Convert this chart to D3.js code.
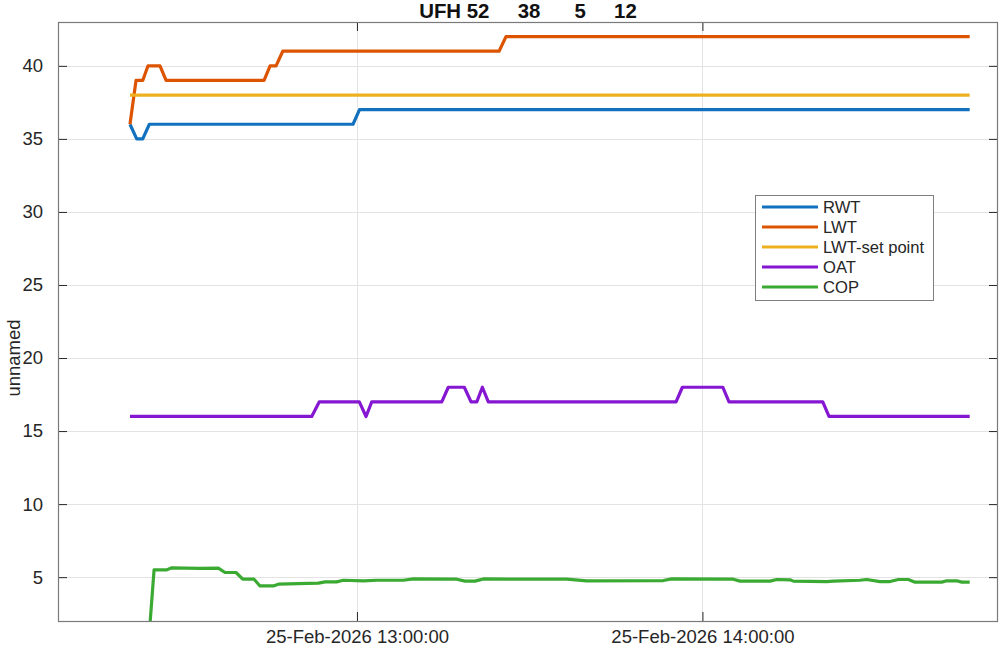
<!DOCTYPE html>
<html>
<head>
<meta charset="utf-8">
<script src="https://cdn.jsdelivr.net/npm/d3@7"></script>
<style>
  html, body { margin: 0; padding: 0; background: #fff; }
  svg { display: block; font-family: "Liberation Sans", Arial, Helvetica, sans-serif; }
</style>
</head>
<body>
<svg id="chart" width="1004" height="647"></svg>
<script>
// ---------- data ----------
const chartTitle = "UFH 52     38      5     12";
const yLabel = "unnamed";
const day = "2026-02-25";
const seriesNames = ["RWT", "LWT", "LWT-set point", "OAT", "COP"];
const seriesColors = ["#1171BE", "#DD5400", "#EDB120", "#8516D1", "#3BAA32"];

const rwtTimes = ["12:20:35","12:21:45","12:22:48","12:23:57","12:59:19","13:00:27","14:46:25"];
const rwtValues = [36,35,35,36,36,37,37];

const lwtTimes = ["12:20:35","12:21:38","12:22:48","12:23:43","12:25:48","12:26:51","12:43:52","12:44:55","12:45:57","12:47:07","13:24:41","13:25:53","14:46:25"];
const lwtValues = [36,39,39,40,40,39,39,40,40,41,41,42,42];

const setTimes = ["12:20:35","14:46:25"];
const setValues = [38,38];

const oatTimes = ["12:20:35","12:52:09","12:53:28","13:00:25","13:01:35","13:02:34","13:14:44","13:15:52","13:18:39","13:19:49","13:20:49","13:21:47","13:22:49","13:55:25","13:56:31","14:03:32","14:04:37","14:20:54","14:21:59","14:46:25"];
const oatValues = [16,16,17,17,16,17,17,18,18,17,17,18,17,17,18,18,17,17,16,16];

const copTimes = ["12:20:35","12:23:43","12:24:46","12:26:58","12:27:50","12:32:45","12:35:56","12:37:05","12:39:00","12:40:10","12:42:08","12:43:10","12:45:29","12:46:21","12:53:18","12:54:28","12:56:29","12:57:38","13:01:07","13:03:26","13:08:04","13:09:48","13:17:20","13:18:46","13:20:31","13:21:57","13:26:35","13:36:26","13:39:55","13:53:13","13:54:40","14:05:22","14:06:32","14:11:44","14:12:55","14:15:13","14:15:47","14:21:35","14:22:44","14:27:22","14:28:32","14:30:51","14:32:35","14:34:02","14:35:46","14:36:56","14:41:34","14:42:26","14:44:10","14:45:02","14:46:25"];
const copValues = [0,0,5.50,5.50,5.64,5.60,5.62,5.32,5.32,4.86,4.86,4.40,4.40,4.52,4.59,4.68,4.68,4.79,4.75,4.79,4.79,4.88,4.86,4.73,4.73,4.88,4.86,4.86,4.75,4.77,4.88,4.86,4.73,4.73,4.84,4.82,4.73,4.70,4.73,4.79,4.84,4.70,4.70,4.84,4.84,4.66,4.66,4.75,4.75,4.66,4.66];

const xDomainTimes = ["12:08:05", "14:51:20"];
const xTickTimes = ["13:00:00", "14:00:00"];
const yDomain = [2, 43];
const yTicks = [5, 10, 15, 20, 25, 30, 35, 40];

// ---------- setup ----------
const parse = d3.timeParse("%Y-%m-%d %H:%M:%S");
const toDate = t => parse(day + " " + t);
const fmt = d3.timeFormat("%d-%b-%Y %H:%M:%S");

const m = { left: 58, right: 998, top: 22, bottom: 621 };
const x = d3.scaleTime().domain(xDomainTimes.map(toDate)).range([m.left, m.right]);
const y = d3.scaleLinear().domain(yDomain).range([m.bottom, m.top]);

const svg = d3.select("#chart");
const axisCol = "#262626";
const frameCol = "#7a7a7a";
const fontSize = 18.5;

svg.append("defs").append("clipPath").attr("id", "clip")
  .append("rect").attr("x", m.left).attr("y", m.top)
  .attr("width", m.right - m.left).attr("height", m.bottom - m.top);

// grid
const grid = svg.append("g");
grid.selectAll(".gy").data(yTicks).join("line")
  .attr("x1", m.left).attr("x2", m.right)
  .attr("y1", d => Math.round(y(d)) + 0.5).attr("y2", d => Math.round(y(d)) + 0.5)
  .attr("stroke", "#e3e3e3").attr("stroke-width", 1);
grid.selectAll(".gx").data(xTickTimes.map(toDate)).join("line")
  .attr("y1", m.top).attr("y2", m.bottom)
  .attr("x1", d => Math.round(x(d)) + 0.5).attr("x2", d => Math.round(x(d)) + 0.5)
  .attr("stroke", "#e3e3e3").attr("stroke-width", 1);

// axes via d3 axes
const tickLen = 9;
const xAxis = d3.axisBottom(x).tickValues(xTickTimes.map(toDate)).tickFormat(fmt)
  .tickSizeInner(-tickLen).tickSizeOuter(0).tickPadding(9);
const gx = svg.append("g").attr("transform", `translate(0,${m.bottom})`).call(xAxis);
const yAxis = d3.axisLeft(y).tickValues(yTicks).tickSizeInner(-tickLen).tickSizeOuter(0).tickPadding(15);
const gy = svg.append("g").attr("transform", `translate(${m.left},0)`).call(yAxis);
[gx, gy].forEach(g => {
  g.select(".domain").remove();
  g.selectAll(".tick line").attr("stroke", axisCol).attr("stroke-width", 1);
  g.selectAll(".tick text").attr("fill", axisCol).attr("font-size", fontSize)
    .attr("font-family", "'Liberation Sans', Arial, sans-serif");
});
// mirrored ticks top/right
const gxTop = svg.append("g").attr("transform", `translate(0,${m.top})`)
  .call(d3.axisTop(x).tickValues(xTickTimes.map(toDate)).tickSizeInner(-tickLen).tickSizeOuter(0).tickFormat(""));
const gyRight = svg.append("g").attr("transform", `translate(${m.right},0)`)
  .call(d3.axisRight(y).tickValues(yTicks).tickSizeInner(-tickLen).tickSizeOuter(0).tickFormat(""));
[gxTop, gyRight].forEach(g => {
  g.select(".domain").remove();
  g.selectAll(".tick line").attr("stroke", axisCol).attr("stroke-width", 1);
});

// series lines
const series = [
  { t: rwtTimes, v: rwtValues },
  { t: lwtTimes, v: lwtValues },
  { t: setTimes, v: setValues },
  { t: oatTimes, v: oatValues },
  { t: copTimes, v: copValues }
];
const line = d3.line().x(d => x(d[0])).y(d => y(d[1]));
const lines = svg.append("g").attr("clip-path", "url(#clip)");
series.forEach((s, i) => {
  const pts = s.t.map((t, k) => [toDate(t), s.v[k]]);
  lines.append("path").datum(pts).attr("d", line)
    .attr("fill", "none").attr("stroke", seriesColors[i])
    .attr("stroke-width", 3.2).attr("stroke-linejoin", "round").attr("stroke-linecap", "butt");
});

// frame box
svg.append("rect").attr("x", m.left + 0.5).attr("y", m.top + 0.5)
  .attr("width", m.right - m.left - 1).attr("height", m.bottom - m.top)
  .attr("fill", "none").attr("stroke", frameCol).attr("stroke-width", 1.2);

// title
svg.append("text").attr("x", (m.left + m.right) / 2).attr("y", 18)
  .attr("text-anchor", "middle").attr("font-weight", "bold").attr("font-size", 20.4)
  .attr("fill", "#111").style("white-space", "pre").text(chartTitle);

// y label
svg.append("text").attr("transform", `translate(20,358) rotate(-90)`)
  .attr("text-anchor", "middle").attr("font-size", fontSize).attr("fill", axisCol).text(yLabel);

// legend
const lg = { x: 755, y: 195, w: 178, h: 105, row0: 207, rowH: 20 };
const leg = svg.append("g");
leg.append("rect").attr("x", lg.x + 0.5).attr("y", lg.y + 0.5).attr("width", lg.w).attr("height", lg.h)
  .attr("fill", "#fff").attr("stroke", "#7f7f7f").attr("stroke-width", 1);
seriesNames.forEach((n, i) => {
  const yy = lg.row0 + i * lg.rowH;
  leg.append("line").attr("x1", 762).attr("x2", 818).attr("y1", yy).attr("y2", yy)
    .attr("stroke", seriesColors[i]).attr("stroke-width", 3.2);
  leg.append("text").attr("x", 823).attr("y", yy).attr("dy", "0.35em")
    .attr("font-size", 16.6).attr("fill", axisCol).text(n);
});
</script>
</body>
</html>
